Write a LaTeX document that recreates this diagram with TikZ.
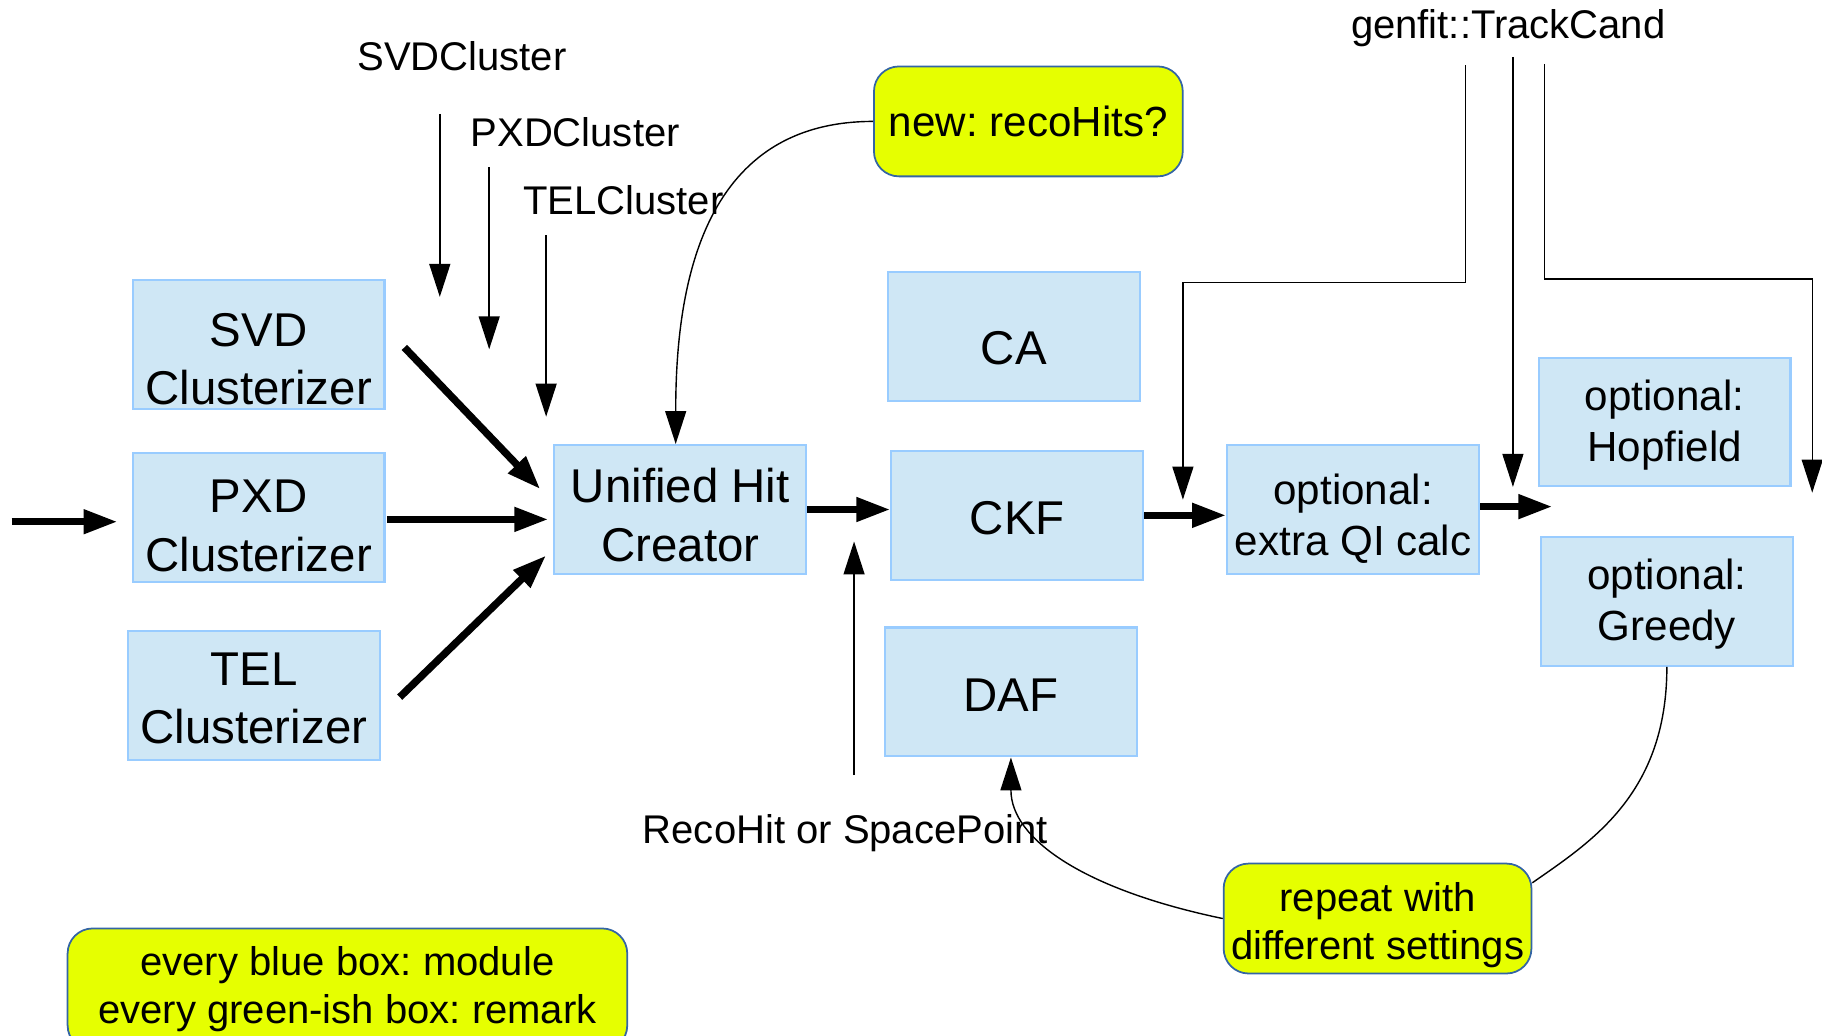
\documentclass[tikz,border=0pt]{standalone}
\usepackage{fontspec}
\setmainfont{Liberation Sans}
\frenchspacing
\usepackage{tikz}
\usetikzlibrary{positioning, calc, arrows.meta}

\definecolor{modfill}{HTML}{CFE7F5}
\definecolor{modline}{HTML}{99CCFF}
\definecolor{remfill}{HTML}{E6FF00}
\definecolor{remline}{HTML}{3465A4}

\newcommand{\bigtext}{\fontsize{13.5}{16.6}\selectfont}
\newcommand{\midtext}{\fontsize{12}{14.6}\selectfont}
\newcommand{\smalltext}{\fontsize{11.4}{13.7}\selectfont}
\newcommand{\padtop}[1]{\rule{0pt}{#1}}

\tikzset{
    module/.style={draw=modline, fill=modfill, line width=0.6pt, minimum width=2.52cm,
        minimum height=1.29cm, inner sep=0pt, align=center, font=\bigtext},
    remark/.style={draw=remline, fill=remfill, line width=0.5pt, rounded corners=0.25cm,
        inner sep=0pt, align=center, font=\smalltext},
    flow/.style={line width=2.1pt, -{Triangle[length=0.34cm, width=0.23cm]}},
    feed/.style={line width=0.4pt, -{Triangle[length=0.33cm, width=0.21cm]}},
    datalabel/.style={font=\smalltext, anchor=base, inner sep=0pt},
}

\begin{document}
\begin{tikzpicture}[x=0.01162cm, y=-0.01162cm]
    \useasboundingbox (0,0) rectangle (1568,891);
    \clip (0,0) rectangle (1568,891);

    \node[module] (svd) at (222.5,296.5) {\padtop{17.6pt}SVD\\Clusterizer};
    \node[module] (pxd) at (222.5,445.5) {\padtop{14pt}PXD\\Clusterizer};
    \node[module] (tel) at (218.5,598.5) {\padtop{11pt}TEL\\Clusterizer};
    \node[module] (uhc) at (585.5,438.5) {\padtop{13pt}Unified Hit\\Creator};
    \node[module] (ca) at (872.5,289.5) {\padtop{16.3pt}CA};
    \node[module] (ckf) at (875.5,443.5) {\padtop{11pt}CKF};
    \node[module] (daf) at (870,595.5) {\padtop{11pt}DAF};
    \node[module, font=\midtext] (qi) at (1164.5,438.5) {\padtop{13.9pt}optional:\\extra QI calc};
    \node[module, font=\midtext, minimum height=1.28cm] (hop) at (1432.5,363)
        {\padtop{10.6pt}optional:\\Hopfield};
    \node[module, font=\midtext] (greedy) at (1434.5,517.5) {\padtop{10.3pt}optional:\\Greedy};

    \node[remark, minimum width=3.09cm, minimum height=1.10cm, font=\fontsize{12}{14}\selectfont]
        (reco) at (885,104.5) {new: recoHits?};
    \node[remark, minimum width=3.08cm, minimum height=1.10cm] (rep) at (1185.5,790.5)
        {\padtop{11.8pt}repeat with\\different settings};
    \node[remark, minimum width=5.6cm, minimum height=1.22cm] (legend) at (299,851.5)
        {every blue box: module\\every green-ish box: remark};

    \node[datalabel] (svdlbl) at (397.5,61) {SVDCluster};
    \node[datalabel] (pxdlbl) at (495,126) {PXDCluster};
    \node[datalabel] (tellbl) at (536.5,185) {TELCluster};
    \node[datalabel] (gflbl) at (1298,33) {genfit::TrackCand};
    \node[datalabel] (hitlbl) at (727.5,726) {RecoHit or SpacePoint};

    \coordinate (in) at (10,449);
    \coordinate (svdout) at (348,299);
    \coordinate (svdin) at (465,421);
    \coordinate (pxdout) at (333,447);
    \coordinate (telout) at (344,600);
    \coordinate (telin) at (470,478);
    \coordinate (fork) at (1336,436);
    \coordinate (qiin) at (1018,430);
    \coordinate (hopin) at (1302,419);
    \coordinate (greedyin) at (1559.6,424);

    \draw[flow, shorten >=0.14cm] (in) -- (in -| pxd.west);
    \draw[flow] (svdout) -- (svdin);
    \draw[flow, shorten >=0.05cm] (pxdout) -- (uhc.west |- pxdout);
    \draw[flow] (telout) -- (telin);
    \draw[flow] (uhc.east) -- (uhc.east -| ckf.west);
    \draw[flow] (ckf.east) -- (ckf.east -| qi.west);
    \draw[flow] (qi.east |- fork) -- (fork);

    \draw[feed] ($(svdlbl.base)+(-19,37)$) -- ++(0,157.5);
    \draw[feed] ($(pxdlbl.base)+(-74,18)$) -- ++(0,156.6);
    \draw[feed] ($(tellbl.base)+(-66.5,17.6)$) -- ++(0,156);
    \draw[feed] ($(gflbl.base)+(-37,23)$) -- ++(0,187) -| (qiin);
    \draw[feed] ($(gflbl.base)+(4,16)$) -- (hopin);
    \draw[feed] ($(gflbl.base)+(31,22)$) -- ++(0,185) -| (greedyin);
    \draw[feed] ($(hitlbl.base)+(7.5,-59)$) -- ++(0,-201);

    \draw[feed] (reco.west) .. controls +(-150,0) and +(0,-130) .. ($(uhc.north)+(-4,0)$);
    \draw[line width=0.4pt] (greedy.south) .. controls +(0,110) and +(50,-35) .. (rep.13);
    \draw[feed] (rep.west) .. controls +(-120,-25) and +(0,70) .. (daf.south);
\end{tikzpicture}
\end{document}
